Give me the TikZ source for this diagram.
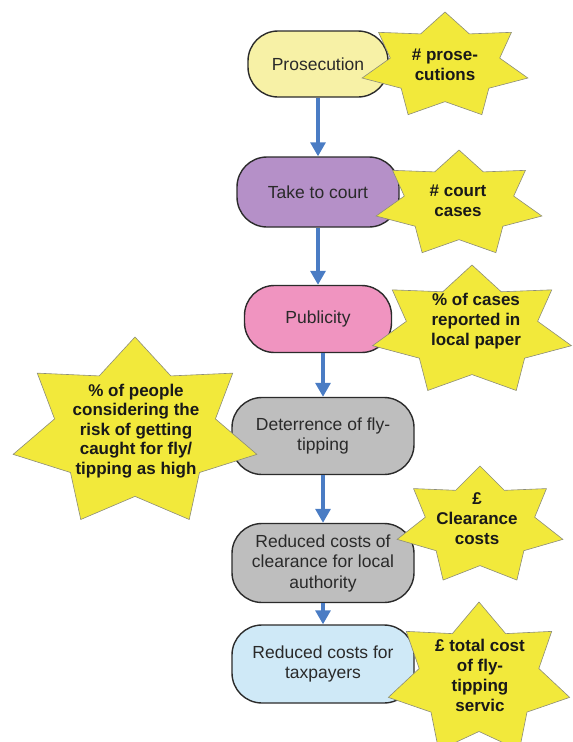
\documentclass[tikz,border=0pt]{standalone}
\usepackage{fontspec}
\setmainfont{Liberation Sans}
\usepackage{xcolor}
\usetikzlibrary{positioning, arrows.meta}

\definecolor{prosfill}{HTML}{F7F1A6}
\definecolor{courtfill}{HTML}{B590C8}
\definecolor{pubfill}{HTML}{F094C0}
\definecolor{greyfill}{HTML}{BEBEBE}
\definecolor{taxfill}{HTML}{CFE9F7}
\definecolor{boxline}{HTML}{2B2B2B}
\definecolor{boxtext}{HTML}{2A2A2A}
\definecolor{flowblue}{HTML}{4A7CC4}
\definecolor{burstyellow}{HTML}{F2E93B}
\definecolor{burstline}{HTML}{8C8C7A}

% 7-point star: centre, x radius, y radius
\newcommand{\burst}[3]{%
  \draw[burst, shift={(#1)}, xscale=#2, yscale=#3] (-90:1)
    \foreach \k in {1,...,7} { -- ({-90+(\k-0.5)*360/7}:0.66) -- ({-90+\k*360/7}:1) } -- cycle;}

\begin{document}
\begin{tikzpicture}[x=1pt, y=-1pt, on grid,
    box/.style={draw=boxline, line width=1.4pt, rounded corners=30pt,
        minimum width=182pt, minimum height=78pt, align=center,
        text=boxtext, font=\fontsize{17.5}{20.5}\selectfont},
    flow/.style={draw=flowblue, line width=3.2pt, -{Triangle[width=15pt, length=14pt]}},
    burst/.style={fill=burstyellow, draw=burstline, line width=0.6pt},
    bursttext/.style={align=center, text=black!90,
        font=\fontsize{17}{20}\selectfont\bfseries}]
    \useasboundingbox (0,0) rectangle (573,742);

    \node[box, fill=prosfill, minimum width=140pt, minimum height=66pt] (prosecution) at (318,64) {Prosecution};
    \node[box, fill=courtfill, minimum width=162pt, minimum height=70pt, below=128pt of prosecution] (court) {Take to court};
    \node[box, fill=pubfill, minimum width=147pt, minimum height=67pt, below=127pt of court] (publicity) {Publicity};
    \node[box, fill=greyfill, minimum height=77pt, below right=117pt and 5pt of publicity] (deterrence) {Deterrence of fly-\\tipping};
    \node[box, fill=greyfill, minimum height=79pt, below=127pt of deterrence] (clearance) {Reduced costs of\\clearance for local\\authority};
    \node[box, fill=taxfill, below=101pt of clearance] (taxpayers) {Reduced costs for\\taxpayers};

    \draw[flow] (prosecution) -- (court);
    \draw[flow] (court) -- (publicity);
    \draw[flow] (deterrence.north |- publicity.south) -- (deterrence.north);
    \draw[flow] (deterrence) -- (clearance);
    \draw[flow] (clearance) -- (taxpayers);

    % indicators
    \burst{445,66}{85}{54}
    \node[bursttext] (nprosecutions) at (445,65) {\# prose-\\cutions};
    \burst{459,204}{85}{54}
    \node[bursttext] (ncourtcases) at (458,201) {\# court\\cases};
    \burst{472,331}{102}{66}
    \node[bursttext] (pctreported) at (476,321) {\% of cases\\reported in\\local paper};
    \burst{135,433}{125}{96}
    \node[bursttext, font=\fontsize{17}{19.5}\selectfont\bfseries] (pctrisk) at (136,431)
        {\% of people\\considering the\\risk of getting\\caught for fly/\\tipping as high};
    \burst{480,526}{85}{60}
    \node[bursttext] (clearcost) at (477,519) {£\\Clearance\\costs};
    \burst{479,680}{93}{78}
    \node[bursttext] (totalcost) at (480,675) {£ total cost\\of fly-\\tipping\\servic};
\end{tikzpicture}
\end{document}
